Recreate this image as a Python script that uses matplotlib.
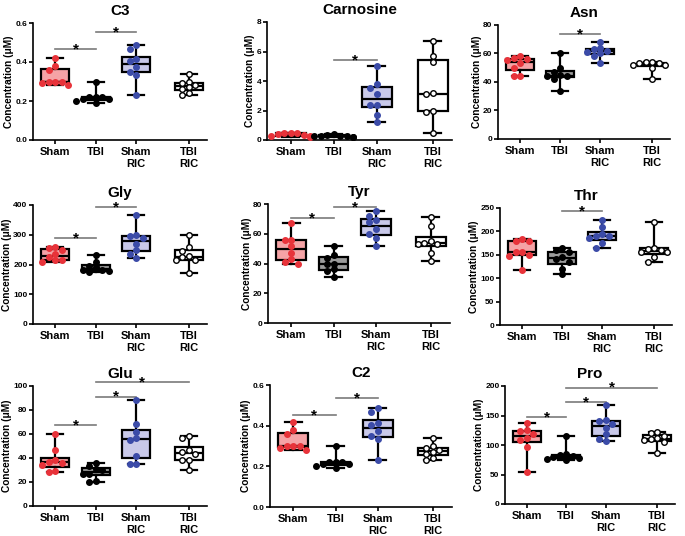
import numpy as np
import matplotlib
matplotlib.use("Agg")
import matplotlib.pyplot as plt

plt.rcParams['font.family'] = ['Liberation Sans', 'DejaVu Sans']
plt.rcParams['font.weight'] = 'bold'

groups = ['Sham', 'TBI', 'Sham\nRIC', 'TBI\nRIC']

# values (uM), 8 animals per group
c3 = [[0.42, 0.38, 0.36, 0.30, 0.30, 0.30, 0.29, 0.28],
      [0.30, 0.22, 0.22, 0.22, 0.21, 0.21, 0.20, 0.19],
      [0.485, 0.465, 0.415, 0.405, 0.375, 0.35, 0.335, 0.23],
      [0.34, 0.30, 0.29, 0.28, 0.27, 0.26, 0.24, 0.23]]
carnosine = [[0.5, 0.45, 0.45, 0.4, 0.35, 0.3, 0.25, 0.2],
             [0.4, 0.35, 0.3, 0.3, 0.25, 0.25, 0.2, 0.2],
             [5.0, 3.8, 3.5, 3.1, 2.4, 2.4, 1.7, 1.2],
             [6.7, 5.7, 5.3, 3.2, 3.1, 2.0, 1.9, 0.5]]
asn = [[58.5, 56.5, 56, 55.5, 53, 50, 44.5, 44],
       [60, 50, 47, 45, 44, 44, 42, 34],
       [68, 64, 63, 62, 61, 60, 58, 53],
       [54, 54, 53.5, 53, 52, 52, 50, 42]]
gly = [[258, 255, 250, 235, 225, 215, 215, 210],
       [232, 210, 195, 190, 183, 180, 178, 175],
       [368, 300, 295, 290, 270, 250, 235, 222],
       [300, 258, 245, 228, 225, 215, 215, 172]]
tyr = [[67, 56, 56, 52, 47, 43, 41, 40],
       [52, 46, 44, 40, 40, 36, 35, 31],
       [75, 72, 69, 68, 63, 60, 57, 52],
       [71, 65, 55, 54, 53, 53, 47, 42]]
thr = [[183, 180, 180, 155, 155, 150, 148, 118],
       [165, 160, 155, 145, 140, 135, 120, 108],
       [225, 210, 195, 190, 190, 185, 175, 165],
       [220, 165, 163, 160, 157, 155, 145, 135]]
glu = [[60, 47, 38, 37, 36, 34, 29, 28],
       [36, 33, 31, 30, 27, 27, 21, 20],
       [88, 68, 62, 57, 55, 42, 35, 35],
       [58, 57, 47, 45, 43, 38, 38, 30]]
c2 = [[0.42, 0.38, 0.36, 0.30, 0.30, 0.30, 0.29, 0.28],
      [0.30, 0.22, 0.22, 0.22, 0.21, 0.21, 0.20, 0.19],
      [0.485, 0.465, 0.415, 0.405, 0.375, 0.35, 0.335, 0.23],
      [0.34, 0.30, 0.29, 0.28, 0.27, 0.26, 0.24, 0.23]]
pro = [[137, 125, 123, 118, 112, 108, 97, 55],
       [115, 85, 83, 82, 80, 78, 76, 74],
       [167, 142, 140, 135, 128, 118, 110, 107],
       [122, 120, 115, 112, 110, 108, 105, 86]]

# significance brackets: (from group, to group, height)
sig_c3 = [(0, 1, 0.467), (1, 2, 0.554)]
sig_carnosine = [(1, 2, 5.4)]
sig_asn = [(1, 2, 73.7)]
sig_gly = [(0, 1, 289), (1, 2, 392)]
sig_tyr = [(0, 1, 70.6), (1, 2, 78)]
sig_thr = [(1, 2, 243)]
sig_glu = [(0, 1, 67.5), (1, 2, 91), (1, 3, 103)]
sig_c2 = [(0, 1, 0.452), (1, 2, 0.536)]
sig_pro = [(0, 1, 147), (1, 2, 173), (1, 3, 197)]

box_fill = ['#f5a3a6', '#9b9b9b', '#c9c9e9', 'white']
dot_face = ['#e8333a', 'black', '#3b4ba8', 'white']
dot_edge = ['#e8333a', 'black', '#3b4ba8', 'black']
pos = [1, 2, 3, 4.3]

W, H = 685, 536
fig = plt.figure(figsize=(W / 100, H / 100), dpi=100)


def add_ax(l, r, t, b):
    return fig.add_axes([l / W, 1 - b / H, (r - l) / W, (b - t) / H])


def swarm(vals, ymax, hpx, upx):
    # spread close values sideways, GraphPad style
    order = np.argsort(vals)[::-1]
    placed = []
    xs = np.zeros(len(vals))
    cands = [0, -1, 1, -2, 2, -3, 3]
    for i in order:
        ypx = vals[i] / ymax * hpx
        for c in cands:
            xpx = c * 6.5
            ok = all((xpx - px) ** 2 + (ypx - py) ** 2 >= 5.5 ** 2 for px, py in placed)
            if ok:
                break
        placed.append((xpx, ypx))
        xs[i] = xpx / upx
    return xs


def panel(ax, data, title, ymax, step, fmt, sigs):
    hpx = ax.get_position().height * H
    upx = ax.get_position().width * W / 4.3
    bp = ax.boxplot(data, positions=pos, widths=0.7, whis=(0, 100),
                    patch_artist=True, showfliers=False,
                    medianprops=dict(color='black', lw=1.6),
                    whiskerprops=dict(color='black', lw=1.6),
                    capprops=dict(color='black', lw=1.6),
                    boxprops=dict(lw=1.6), zorder=2)
    for patch, fc in zip(bp['boxes'], box_fill):
        patch.set_facecolor(fc)
        patch.set_edgecolor('black')
    for cap in bp['caps']:
        x0, x1 = cap.get_xdata()
        m = (x0 + x1) / 2
        cap.set_xdata([m - 0.2, m + 0.2])
    for k, vals in enumerate(data):
        vals = np.array(vals, dtype=float)
        dx = swarm(vals, ymax, hpx, upx)
        ax.plot(pos[k] + dx, vals, 'o', ms=4, mfc=dot_face[k], mec=dot_edge[k],
                mew=1.0, zorder=4, clip_on=False)
    for a, b, h in sigs:
        ax.plot([pos[a], pos[b]], [h, h], color='#7a7a7a', lw=1.2, clip_on=False)
        ax.annotate('*', xy=((pos[a] + pos[b]) / 2, h), xytext=(0, -3),
                    textcoords='offset points', ha='center', va='baseline',
                    fontsize=11, fontweight='bold', annotation_clip=False)
    ax.set_xlim(0.45, 4.75)
    ax.set_ylim(0, ymax)
    ticks = np.arange(0, ymax + step / 2, step)
    ax.set_yticks(ticks)
    ax.set_yticklabels([fmt.format(t) for t in ticks], fontsize=6, fontweight='bold')
    ax.set_xticks(pos)
    ax.set_xticklabels(groups, fontsize=8, fontweight='bold', linespacing=1.25)
    ax.spines['top'].set_visible(False)
    ax.spines['right'].set_visible(False)
    ax.spines['left'].set_linewidth(1.2)
    ax.spines['bottom'].set_linewidth(1.2)
    ax.tick_params(axis='y', length=3, width=1.2, pad=1)
    ax.tick_params(axis='x', length=3, width=1.2, pad=2)
    ax.set_ylabel('Concentration (μM)', fontsize=7.3, fontweight='bold', labelpad=1)
    ax.set_title(title, fontsize=11, fontweight='bold', pad=6)


panel(add_ax(33, 207, 23, 140), c3, 'C3', 0.6, 0.2, '{:.1f}', sig_c3)
panel(add_ax(267, 452, 22, 140), carnosine, 'Carnosine', 8, 2, '{:.0f}', sig_carnosine)
panel(add_ax(498, 670, 25, 139), asn, 'Asn', 80, 20, '{:.0f}', sig_asn)
panel(add_ax(33, 207, 205, 324), gly, 'Gly', 400, 100, '{:.0f}', sig_gly)
panel(add_ax(268, 450, 204, 323), tyr, 'Tyr', 80, 20, '{:.0f}', sig_tyr)
panel(add_ax(500, 672, 208, 325), thr, 'Thr', 250, 50, '{:.0f}', sig_thr)
panel(add_ax(33, 207, 386, 506), glu, 'Glu', 100, 20, '{:.0f}', sig_glu)
panel(add_ax(270, 452, 385, 507), c2, 'C2', 0.6, 0.2, '{:.1f}', sig_c2)
panel(add_ax(505, 675, 386, 504), pro, 'Pro', 200, 50, '{:.0f}', sig_pro)

fig.savefig('out.png', dpi=100)
